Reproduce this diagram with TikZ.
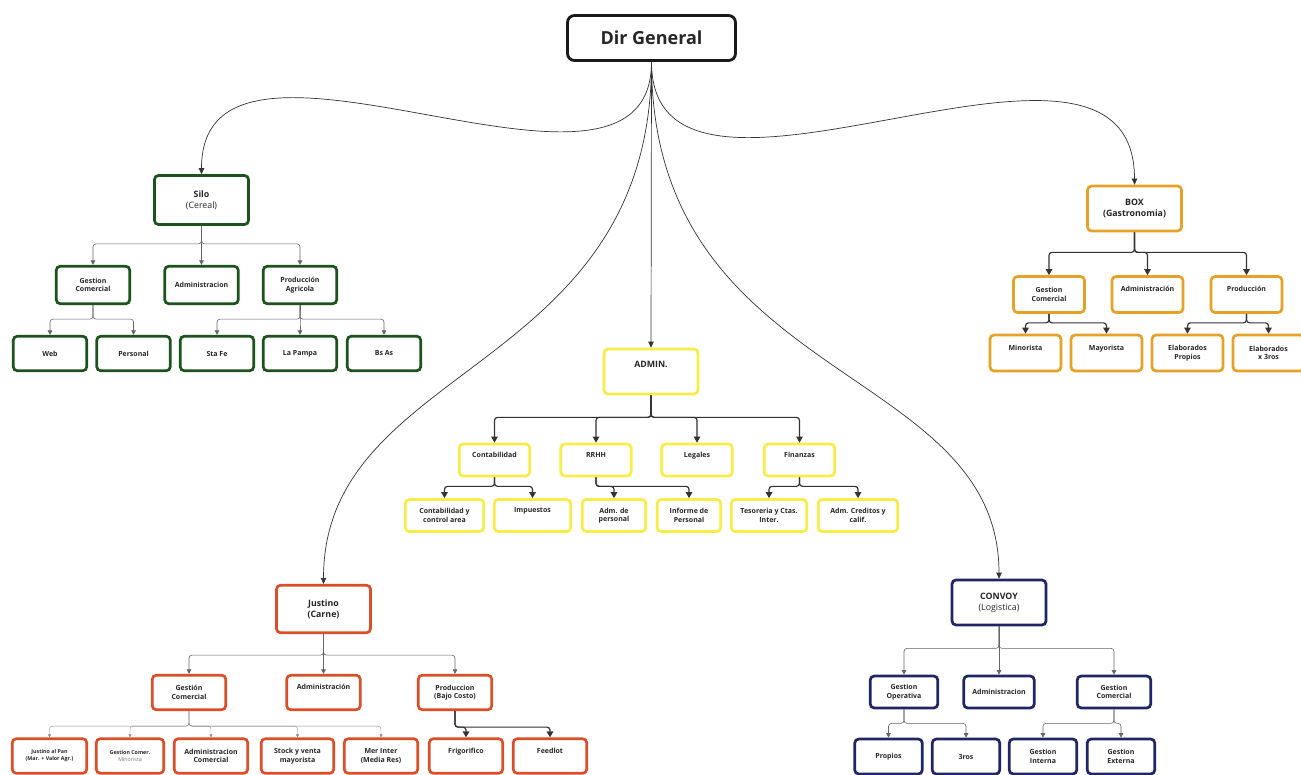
\documentclass[tikz,border=0pt]{standalone}
\usepackage{fontspec}
\setmainfont{Open Sans}
\usetikzlibrary{arrows.meta}

\definecolor{silogreen}{RGB}{28,82,28}
\definecolor{boxorange}{RGB}{230,162,40}
\definecolor{adminyellow}{RGB}{247,236,72}
\definecolor{justred}{RGB}{218,78,40}
\definecolor{convnavy}{RGB}{32,38,100}

\newcommand{\toptext}[1]{#1\\\strut}

\tikzset{
  unit/.style={draw, rounded corners=4pt, line width=2.7pt, align=center, inner sep=1pt,
    text=black!85, font=\fontsize{7}{8.4}\selectfont\bfseries,
    minimum width=73.5pt, minimum height=36pt},
  head/.style={unit, font=\fontsize{8.8}{11}\selectfont\bfseries,
    minimum width=94pt, minimum height=45pt},
  link/.style={draw=black!60, line width=0.6pt, rounded corners=3pt,
    -{Triangle[length=4.5pt,width=4.5pt]}},
  linkt/.style={draw=black!45, line width=0.4pt, rounded corners=3pt,
    -{Triangle[length=3pt,width=3pt]}},
  linkb/.style={draw=black!80, line width=1.2pt, rounded corners=3pt,
    -{Triangle[length=6pt,width=6.5pt]}},
  curve/.style={draw=black!80, line width=0.7pt, -{Triangle[length=6pt,width=5.5pt]}},
}

\begin{document}
\begin{tikzpicture}[x=1pt, y=-1pt]
\useasboundingbox (0,0) rectangle (1301,774);
\clip (0,0) rectangle (1301,774);
\fill[white] (0,0) rectangle (1301,774);

\node[draw=black!90, line width=2.8pt, rounded corners=7pt, minimum width=168pt,
  minimum height=45pt, text=black!85, font=\fontsize{18}{21}\selectfont\bfseries]
  (dir) at (651.5,38) {Dir General};

% Silo
\begin{scope}[every node/.style={unit, draw=silogreen}]
\node[head, draw=silogreen, minimum height=49pt] (silo) at (201.5,200) {Silo\\{\mdseries(Cereal)}};
\node[minimum height=37.5pt] (sgc) at (93,285) {Gestion\\Comercial};
\node[minimum height=37.5pt] (sadm) at (201.5,285) {Administracion};
\node[minimum height=37.5pt] (sprod) at (300,285) {Producción\\Agricola};
\node[minimum height=34.5pt] (sweb) at (50,353.5) {Web};
\node[minimum height=34.5pt] (spers) at (133.5,353.5) {Personal};
\node[minimum height=34.5pt] (sfe) at (217,353.5) {Sta Fe};
\node[minimum height=34.5pt] (spam) at (300,353.5) {La Pampa};
\node[minimum height=34.5pt] (sbs) at (384,353.5) {Bs As};
\end{scope}

% BOX
\begin{scope}[every node/.style={unit, draw=boxorange, minimum width=71pt}]
\node[head, draw=boxorange] (box) at (1134.5,208.5) {BOX\\(Gastronomia)};
\node (bgc) at (1049,294.5) {Gestion\\Comercial};
\node (badm) at (1147.5,294.5) {\toptext{Administración}};
\node (bprod) at (1246.5,294.5) {\toptext{Producción}};
\node (bmin) at (1025.5,353) {\toptext{Minorista}};
\node (bmay) at (1106.5,353) {\toptext{Mayorista}};
\node (bprop) at (1187.5,353) {Elaborados\\Propios};
\node (bter) at (1268.5,353) {Elaborados\\x 3ros};
\end{scope}

% ADMIN.
\begin{scope}[every node/.style={unit, draw=adminyellow, minimum width=70.5pt, minimum height=32pt}]
\node[head, draw=adminyellow] (admin) at (651,371.5) {\toptext{ADMIN.}};
\node (acont) at (494.5,460) {\toptext{Contabilidad}};
\node (arrhh) at (596,460) {\toptext{RRHH}};
\node (aleg) at (697,460) {\toptext{Legales}};
\node (afin) at (799.5,460) {\toptext{Finanzas}};
\node[minimum width=78.5pt] (acc) at (444.5,515.5) {Contabilidad y\\control area};
\node[minimum width=76.5pt] (aimp) at (532.5,515.5) {\toptext{Impuestos}};
\node[minimum width=63.5pt] (aadm) at (614,515.5) {Adm. de\\personal};
\node[minimum width=63.5pt] (ainf) at (689,515.5) {Informe de\\Personal};
\node[minimum width=75.5pt] (ates) at (769,515.5) {Tesoreria y Ctas.\\Inter.};
\node[minimum width=79.5pt] (acred) at (858,515.5) {Adm. Creditos y\\calif.};
\end{scope}

% Justino
\begin{scope}[every node/.style={unit, draw=justred, minimum height=34.5pt}]
\node[head, draw=justred, minimum height=47.5pt] (just) at (323.5,609) {Justino\\(Carne)};
\node (jgc) at (189,692.5) {Gestión\\Comercial};
\node (jadm) at (323.5,692.5) {\toptext{Administración}};
\node (jprod) at (455,692.5) {Produccion\\(Bajo Costo)};
\node[minimum width=74.5pt, font=\fontsize{5.3}{7.2}\selectfont\bfseries] (jpan) at (49.5,756) {Justino al Pan\\(Mar. + Valor Agr.)};
\node[minimum width=67.5pt, font=\fontsize{5.3}{7.2}\selectfont\bfseries] (jmin) at (130,756) {Gestion Comer.\\{\mdseries\color{black!55}Minorista}};
\node (jac) at (211,756) {Administracion\\Comercial};
\node[minimum width=72.5pt] (jstock) at (297.5,756) {Stock y venta\\mayorista};
\node (jmer) at (381,756) {Mer Inter\\(Media Res)};
\node (jfri) at (466,756) {\toptext{Frigorifico}};
\node (jfeed) at (550,756) {\toptext{Feedlot}};
\end{scope}

% CONVOY
\begin{scope}[every node/.style={unit, draw=convnavy, minimum width=67.5pt, minimum height=32pt}]
\node[head, draw=convnavy] (conv) at (999,602.5) {CONVOY\\{\mdseries(Logistica)}};
\node (cop) at (904,692) {Gestion\\Operativa};
\node[minimum width=70.5pt] (cadm) at (999,692) {Administracion};
\node[minimum width=73.5pt] (ccom) at (1114,692) {Gestion\\Comercial};
\node[minimum height=35pt] (cprop) at (888.5,756.5) {Propios};
\node[minimum height=35pt] (cter) at (966,756.5) {3ros};
\node[minimum height=35pt] (cint) at (1043,756.5) {Gestion\\Interna};
\node[minimum height=35pt] (cext) at (1121,756.5) {Gestion\\Externa};
\end{scope}

% from the top down to each company
\draw[curve] (dir.south) .. controls +(0,187) and +(0,-194) .. (silo.north);
\draw[curve] (dir.south) .. controls +(0,203) and +(0,-213) .. (box.north);
\draw[curve] (dir.south) -- (admin.north);
\draw[curve] (dir.south) .. controls +(0,313) and +(0,-223) .. (just.north);
\draw[curve] (dir.south) .. controls +(0,324) and +(0,-216) .. (conv.north);

% elbow links inside each company
\foreach \ch in {sgc,sadm,sprod} \draw[link] (silo.south) -- ++(0,18) -| (\ch.north);
\foreach \ch in {sweb,spers} \draw[link] (sgc.south) -- ++(0,14) -| (\ch.north);
\foreach \ch in {sfe,spam,sbs} \draw[link] (sprod.south) -- ++(0,14) -| (\ch.north);

\foreach \ch in {bgc,badm,bprod} \draw[linkb] (box.south) -- ++(0,20) -| (\ch.north);
\foreach \ch in {bmin,bmay} \draw[linkb] (bgc.south) -- ++(0,9) -| (\ch.north);
\foreach \ch in {bprop,bter} \draw[linkb] (bprod.south) -- ++(0,9) -| (\ch.north);

\foreach \ch in {acont,arrhh,aleg,afin} \draw[linkb] (admin.south) -- ++(0,22) -| (\ch.north);
\foreach \ch in {acc,aimp} \draw[linkb] (acont.south) -- ++(0,9) -| (\ch.north);
\foreach \ch in {aadm,ainf} \draw[linkb] (arrhh.south) -- ++(0,9) -| (\ch.north);
\foreach \ch in {ates,acred} \draw[linkb] (afin.south) -- ++(0,9) -| (\ch.north);

\foreach \ch in {jgc,jadm,jprod} \draw[link] (just.south) -- ++(0,21) -| (\ch.north);
\foreach \ch in {jpan,jmin,jac,jstock,jmer} \draw[linkt] (jgc.south) -- ++(0,15) -| (\ch.north);
\foreach \ch in {jfri,jfeed} \draw[linkb] (jprod.south) -- ++(0,16) -| (\ch.north);

\foreach \ch in {cop,cadm,ccom} \draw[link] (conv.south) -- ++(0,22) -| (\ch.north);
\foreach \ch in {cprop,cter} \draw[link] (cop.south) -- ++(0,14) -| (\ch.north);
\foreach \ch in {cint,cext} \draw[link] (ccom.south) -- ++(0,14) -| (\ch.north);
\end{tikzpicture}
\end{document}
